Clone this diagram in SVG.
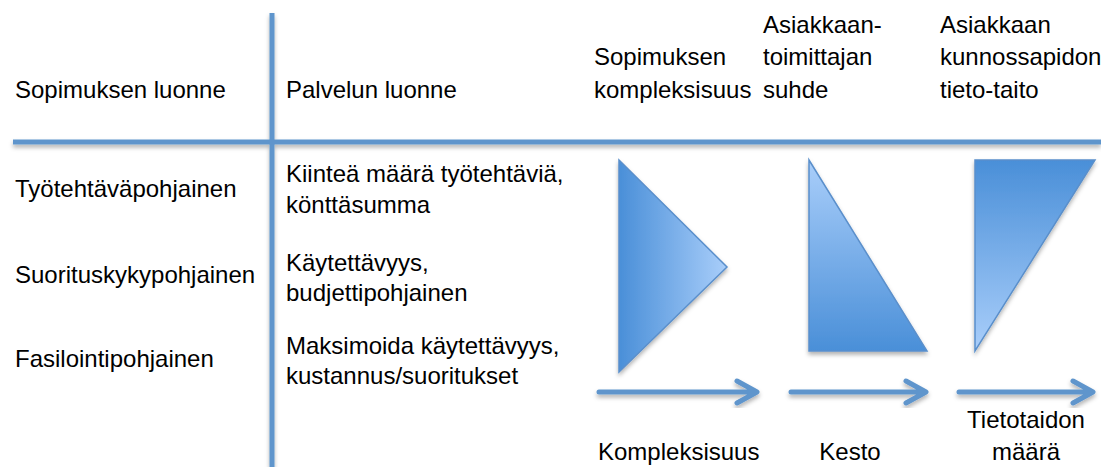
<svg xmlns="http://www.w3.org/2000/svg" width="1101" height="467" viewBox="0 0 1101 467">
<defs>
<style>
text{font-family:"Liberation Sans",Arial,sans-serif;font-size:24px;fill:#000}
.ln{stroke:#5f95cc;stroke-width:5;fill:none}
.ar{stroke:#5f95cc;stroke-width:5;fill:none;stroke-linecap:round;stroke-linejoin:round}
.tri{stroke:#5a8fcb;stroke-width:1.5}
</style>
<filter id="sh" x="-10%" y="-10%" width="130%" height="130%">
<feDropShadow dx="0" dy="3" stdDeviation="2" flood-color="#000" flood-opacity="0.3"/>
</filter>
<linearGradient id="gH" x1="0" y1="0" x2="1" y2="0">
<stop offset="0" stop-color="#4a8fd8"/>
<stop offset="1" stop-color="#a9cefa"/>
</linearGradient>
<linearGradient id="gUp" x1="0" y1="0" x2="0" y2="1">
<stop offset="0" stop-color="#a9cefa"/>
<stop offset="1" stop-color="#4a8fd8"/>
</linearGradient>
<linearGradient id="gDown" x1="0" y1="0" x2="0" y2="1">
<stop offset="0" stop-color="#4a8fd8"/>
<stop offset="1" stop-color="#a9cefa"/>
</linearGradient>
</defs>
<rect width="1101" height="467" fill="#fff"/>

<g id="grid" filter="url(#sh)">
<line class="ln" x1="13" y1="142" x2="1101" y2="142"/>
<line class="ln" x1="272" y1="13" x2="272" y2="467"/>
</g>

<g id="headers">
<text x="15" y="98">Sopimuksen luonne</text>
<text x="286" y="98">Palvelun luonne</text>
<text x="594" y="65">Sopimuksen</text>
<text x="594" y="98">kompleksisuus</text>
<text x="763" y="33">Asiakkaan-</text>
<text x="763" y="65">toimittajan</text>
<text x="763" y="98">suhde</text>
<text x="940" y="33">Asiakkaan</text>
<text x="940" y="65">kunnossapidon</text>
<text x="940" y="98">tieto-taito</text>
</g>

<g id="rows">
<text x="15" y="197">Työtehtäväpohjainen</text>
<text x="15" y="283">Suorituskykypohjainen</text>
<text x="15" y="367">Fasilointipohjainen</text>
<text x="286" y="182">Kiinteä määrä työtehtäviä,</text>
<text x="286" y="213">könttäsumma</text>
<text x="286" y="271">Käytettävyys,</text>
<text x="286" y="301">budjettipohjainen</text>
<text x="286" y="354">Maksimoida käytettävyys,</text>
<text x="286" y="384">kustannus/suoritukset</text>
</g>

<g id="triangle-kompleksisuus" filter="url(#sh)">
<polygon class="tri" points="619,160 727,267 619,372" fill="url(#gH)"/>
</g>
<g id="triangle-kesto" filter="url(#sh)">
<polygon class="tri" points="809,160 927,351 809,351" fill="url(#gUp)"/>
</g>
<g id="triangle-tietotaito" filter="url(#sh)">
<polygon class="tri" points="975,160 1095,160 975,351" fill="url(#gDown)"/>
</g>

<g id="connectors" filter="url(#sh)">
<path class="ar" d="M599,392 H755 M737,381 L757,392 L737,403"/>
<path class="ar" d="M791,392 H924 M906,381 L926,392 L906,403"/>
<path class="ar" d="M959,392 H1091 M1073,381 L1093,392 L1073,403"/>
</g>

<g id="axis-labels">
<text x="598" y="460">Kompleksisuus</text>
<text x="850" y="460" text-anchor="middle">Kesto</text>
<text x="1026" y="428" text-anchor="middle">Tietotaidon</text>
<text x="1026" y="460" text-anchor="middle">määrä</text>
</g>
</svg>
